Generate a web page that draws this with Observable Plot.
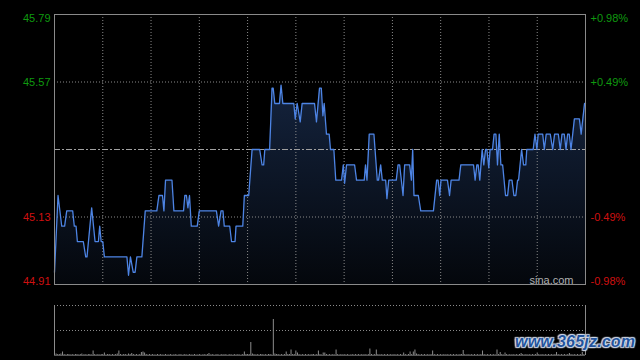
<!DOCTYPE html>
<html><head><meta charset="utf-8">
<script src="https://cdn.jsdelivr.net/npm/d3@7"></script>
<script src="https://cdn.jsdelivr.net/npm/@observablehq/plot@0.6"></script>
<style>
html,body{margin:0;padding:0;background:#000;}
#wrap{position:relative;width:640px;height:360px;background:#000;overflow:hidden;font-family:"Liberation Sans",Arial,sans-serif;}
#main{position:absolute;left:0;top:0;}
#vol{position:absolute;left:0;top:290px;}
#wm{position:absolute;left:515px;top:333px;font:italic bold 16px "Liberation Sans",Arial,sans-serif;color:#24549c;
text-shadow:0 0 1px #dfe6f2,0 0 2px #dfe6f2,1px 1px 1px #c8d2e2,-1px -1px 1px #c8d2e2,1px -1px 1px #c8d2e2,-1px 1px 1px #c8d2e2;letter-spacing:0.2px;}
</style></head>
<body>
<div id="wrap"><div id="main"></div><div id="vol"></div><div id="wm">www.365jz.com</div></div>
<script>
// ---- data ----
const prevClose = 45.35;
const priceTicks = [45.79, 45.57, 45.13, 44.91];
const priceTickLabels = ["45.79", "45.57", "45.13", "44.91"];
const pctTickLabels = ["+0.98%", "+0.49%", "-0.49%", "-0.98%"];
const gridMinutes = [30, 60, 90, 120, 150, 180, 210, 240, 270, 300];
const sessionMinutes = [0, 330];

// minute-of-session (HK: 09:30-12:00, 13:00-16:00) and price at each vertex of the line
const minutes = [0,2.2,4.5,6.3,7.6,11.3,12.3,13.4,14.2,17.9,19.4,20.2,23.1,25.2,27.3,28.1,29,30,31,45,46,47.2,48.9,50.1,51.2,54.3,56.4,63.6,64.9,67.1,68,69,73,74.2,80.2,81,82,82.9,83.9,85,88.7,90,100.6,102,103.5,104.7,105.5,108.9,110,112.2,112.8,117,118,120.7,122.8,127.5,129,130,130.7,133.7,135.2,135.9,136.9,139.8,140.8,141.9,148.7,149.6,150.8,152.7,153.9,161.6,162.8,164.7,165.8,166.8,167.6,169,170.7,171.5,173.6,174.8,178.4,179.5,180.3,181.5,186.5,187.7,192.5,193.3,194.2,195.6,198.5,200.6,201.4,202.7,203.7,205.8,206.6,207.7,212.4,213.5,214.5,216.6,217.6,220.7,221.8,222.6,223.4,226.1,227.6,235.5,237.5,238.4,239.4,240.2,244.2,245.5,246.5,251.4,252.5,260.4,261.4,262.5,263.3,264.3,265.8,266.8,267.9,268.7,269.9,270.7,272.2,273.2,274.3,275.3,276.4,277.4,278.5,280.3,281.6,282.6,284.3,285.5,286.7,287.8,288.4,290.3,291.5,292.9,293.5,297.5,298.6,299.8,300.6,303.4,304.4,305.6,308.1,309.6,310.8,313.1,314.3,315.4,316.8,317.9,318.9,319.9,321,323.1,326.2,327.3,329.4,330];
const prices = [44.95,45.20,45.10,45.10,45.15,45.15,45.10,45.10,45.05,45.05,45.00,45.00,45.16,45.05,45.05,45.10,45.05,45.05,45.00,45.00,44.94,45.00,44.95,44.95,45.00,45.00,45.15,45.15,45.20,45.20,45.15,45.25,45.25,45.15,45.15,45.20,45.20,45.16,45.20,45.10,45.10,45.15,45.15,45.10,45.15,45.15,45.10,45.10,45.05,45.05,45.10,45.10,45.20,45.20,45.35,45.35,45.30,45.30,45.35,45.35,45.55,45.55,45.50,45.50,45.56,45.50,45.50,45.45,45.50,45.44,45.50,45.50,45.44,45.55,45.55,45.46,45.50,45.40,45.40,45.35,45.35,45.25,45.25,45.30,45.24,45.30,45.30,45.25,45.25,45.30,45.25,45.40,45.40,45.25,45.25,45.30,45.25,45.25,45.19,45.25,45.25,45.30,45.30,45.20,45.30,45.30,45.25,45.35,45.20,45.20,45.15,45.15,45.25,45.25,45.20,45.25,45.25,45.20,45.25,45.25,45.30,45.30,45.25,45.30,45.30,45.25,45.35,45.30,45.35,45.35,45.29,45.35,45.35,45.40,45.40,45.30,45.40,45.30,45.30,45.20,45.20,45.25,45.25,45.20,45.20,45.25,45.25,45.35,45.30,45.30,45.35,45.35,45.40,45.35,45.40,45.40,45.35,45.40,45.40,45.35,45.40,45.40,45.35,45.40,45.40,45.35,45.40,45.40,45.35,45.45,45.45,45.40,45.50,45.50];

// per-minute volume, relative units (panel top = 100)
const volumes = [
59,3,2,2,3,7,2,1,2,2,1,2,1,2,2,1,2,3,1,2,1,2,2,1,9,2,1,2,1,2,
2,5,1,2,2,1,2,1,2,3,9,2,1,2,2,1,3,2,4,2,1,2,1,2,6,7,5,2,1,2,
1,2,1,1,2,1,2,1,1,2,1,1,2,1,1,2,1,1,2,1,1,2,1,1,2,1,1,2,1,1,
2,1,1,2,1,2,4,1,2,1,1,2,1,1,2,1,2,1,1,2,1,1,2,1,2,1,1,2,7,2,
2,2,26,3,2,1,2,1,2,2,1,2,1,2,2,1,72,3,2,2,1,2,1,2,7,2,2,11,2,2,
9,5,2,1,2,1,2,1,2,1,2,2,1,2,9,2,1,5,5,2,1,2,1,2,1,11,2,1,2,1,
2,1,2,1,1,2,1,2,1,2,1,2,1,2,1,2,13,2,1,2,11,2,1,2,1,2,1,2,1,2,
1,2,1,2,1,2,1,5,2,1,2,7,2,7,11,3,2,1,2,1,2,1,2,1,2,9,2,1,2,1,
2,1,2,1,2,1,2,1,2,1,2,1,2,2,10,2,1,2,1,2,1,2,1,2,1,2,9,2,1,2,
1,2,1,2,1,11,2,6,2,1,5,2,1,2,1,2,1,2,1,2,4,2,1,2,1,2,1,2,1,2,
5,2,1,2,1,2,1,2,1,2,1,2,6,2,1,2,1,2,1,2,4,2,1,2,1,2,1,2,6,2,
3];

// ---- build ----
const series = minutes.map((m, i) => ({m, p: prices[i]}));
const tickRows = priceTicks.map((v, i) => ({v, label: priceTickLabels[i], pct: pctTickLabels[i], i}));
const volRows = volumes.map((v, i) => ({m: i, v}));
const green = "#0f9a0f", red = "#d01010";
const fontFamily = "'Liberation Sans', Arial, sans-serif";

function labelMarks(filterFn, lineAnchor) {
  const rows = tickRows.filter(filterFn);
  const col = d => d.v > prevClose ? green : red;
  return [
    Plot.text(rows, {y: "v", text: "label", frameAnchor: "left", dx: -4, textAnchor: "end", lineAnchor, fill: col, fontSize: 11}),
    Plot.text(rows, {y: "v", text: "pct", frameAnchor: "right", dx: 5, textAnchor: "start", lineAnchor, fill: col, fontSize: 11})
  ];
}

const gradientDefs = () => {
  const defs = d3.create("svg:defs");
  const g = defs.append("linearGradient").attr("id", "areaGrad").attr("x1", 0).attr("y1", 0).attr("x2", 0).attr("y2", 1);
  g.append("stop").attr("offset", "0%").attr("stop-color", "#14233d");
  g.append("stop").attr("offset", "100%").attr("stop-color", "#04070c");
  return defs.node();
};

const main = Plot.plot({
  width: 640, height: 290,
  marginLeft: 54, marginRight: 55, marginTop: 14, marginBottom: 6,
  style: {background: "transparent", fontFamily, color: "#ccc"},
  x: {domain: sessionMinutes, axis: null},
  y: {domain: [priceTicks[3], priceTicks[0]], axis: null},
  marks: [
    gradientDefs,
    Plot.areaY(series, {x: "m", y1: priceTicks[3], y2: "p", fill: "url(#areaGrad)"}),
    Plot.ruleX(gridMinutes, {stroke: "#8a8a8a", strokeDasharray: "1,2"}),
    Plot.ruleY([priceTicks[1], priceTicks[2]], {stroke: "#8a8a8a", strokeDasharray: "1,2"}),
    Plot.ruleY([prevClose], {stroke: "#a0a0a0", strokeDasharray: "6,2,2,2"}),
    Plot.lineY(series, {x: "m", y: "p", stroke: "#4d84e4", strokeWidth: 1.3}),
    Plot.frame({stroke: "#8a8a8a"}),
    ...labelMarks(d => d.i === 0, "top"),
    ...labelMarks(d => d.i === 1 || d.i === 2, "middle"),
    ...labelMarks(d => d.i === 3, "bottom"),
    Plot.text(["sina.com"], {frameAnchor: "bottom-right", dx: -12, dy: -1, textAnchor: "end", lineAnchor: "bottom", fill: "#b0b0b0", fontSize: 11})
  ]
});
document.getElementById("main").appendChild(main);

const vol = Plot.plot({
  width: 640, height: 70,
  marginLeft: 54, marginRight: 55, marginTop: 15, marginBottom: 5,
  style: {background: "transparent", fontFamily},
  x: {domain: sessionMinutes, axis: null},
  y: {domain: [0, 100], axis: null},
  marks: [
    Plot.ruleY([100, 50], {stroke: "#8a8a8a", strokeDasharray: "1,2"}),
    Plot.ruleY([0], {stroke: "#555"}),
    Plot.ruleX(sessionMinutes, {stroke: "#8a8a8a"}),
    Plot.ruleX(volRows, {x: "m", y1: 0, y2: "v", stroke: "#8c8c8c", strokeWidth: 1})
  ]
});
document.getElementById("vol").appendChild(vol);
</script>
</body></html>
